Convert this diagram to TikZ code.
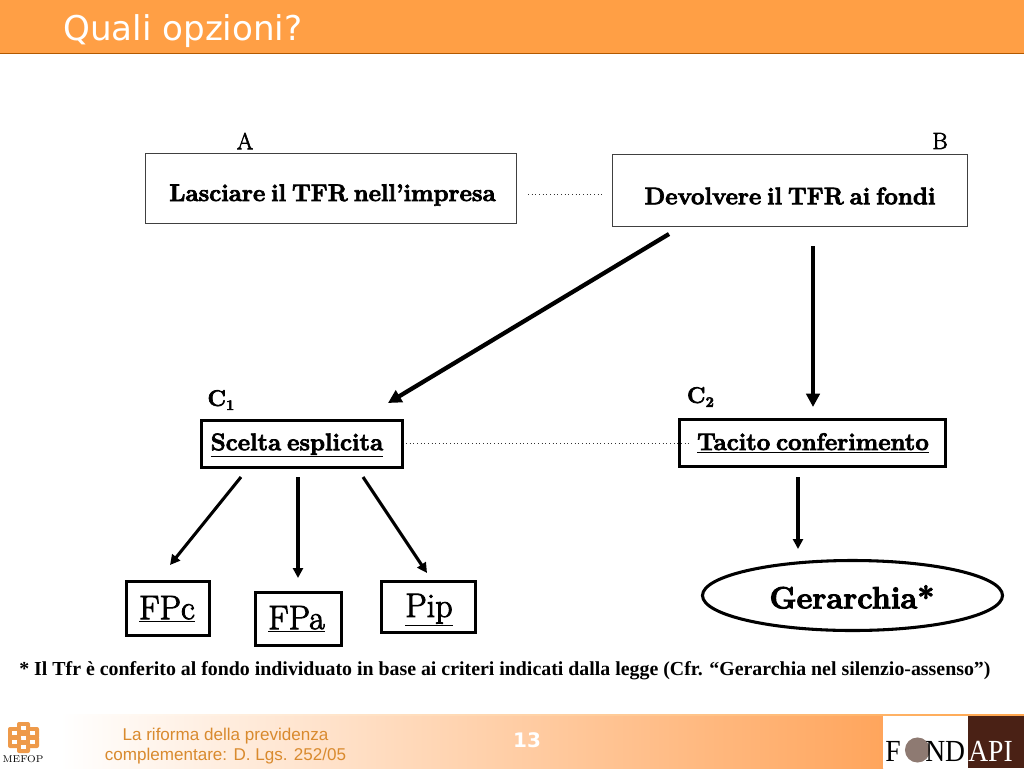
\documentclass[tikz,border=0pt]{standalone}
\usepackage{fontspec}
\usetikzlibrary{shapes.geometric,arrows.meta}
\newfontfamily\titlefont{DejaVu Sans}
\newfontfamily\footfont{Liberation Sans}
\newfontfamily\notefont{Liberation Serif}
\newfontfamily\heavyfont[BoldFeatures={FakeBold=3,WordSpace=0.65}]{Latin Modern Roman}
\newfontfamily\midfont[FakeBold=2.5]{Latin Modern Roman}
\definecolor{barorange}{HTML}{FF9F45}
\definecolor{footorange}{HTML}{FFA55C}
\definecolor{logoorange}{HTML}{EE9A4A}
\definecolor{foottext}{HTML}{D98A2E}
\definecolor{fondbrown}{HTML}{4A2115}
\definecolor{coin}{HTML}{8E7A72}
\tikzset{
  x=0.75pt,y=-0.75pt,
  thinbox/.style={draw=black!75,line width=0.75pt,rectangle,inner sep=0pt,outer sep=0pt,anchor=north west},
  heavybox/.style={draw=black,line width=2.3pt,rectangle,inner sep=0pt,outer sep=0pt,anchor=north west},
  boxtext/.style={inner sep=0pt,font=\heavyfont\bfseries\fontsize{18}{22}\selectfont,text=black},
  letter/.style={inner sep=0pt,font=\midfont\fontsize{17.5}{20}\selectfont},
  bigarrow/.style={line width=3.2pt,-{Triangle[length=10pt,width=10pt]}},
  smallarrow/.style={line width=2.3pt,-{Triangle[length=7.5pt,width=7.5pt]}},
  dotline/.style={dotted,line width=0.75pt,black!80},
  fundtext/.style={inner sep=0pt,font=\midfont\fontsize{25.5}{28}\selectfont},
  clabel/.style={inner sep=0pt,font=\heavyfont\bfseries\fontsize{17}{20}\selectfont},
  logotext/.style={anchor=base west,inner sep=0pt,xscale=0.9,font=\notefont\fontsize{23}{24}\selectfont},
}
\begin{document}
\begin{tikzpicture}
\useasboundingbox (0,0) rectangle (1024,768);
\fill[white] (0,0) rectangle (1024,768);
% header
\fill[barorange] (0,0) rectangle (1024,53);
\draw[line width=0.75pt,color=orange!70!black] (0,53.5) -- (1024,53.5);
\node[anchor=west,inner sep=0pt,text=white,font=\titlefont\fontsize{25.6}{28}\selectfont] (title) at (63,31) {Quali opzioni?};
% footer
\shade[left color=white,right color=footorange] (60,714) rectangle (883,768);
\fill[white] (883,715) rectangle (968,768);
\fill[fondbrown] (968,715) rectangle (1024,768);
\shade[left color=white,right color=orange!70] (60,714) rectangle (1024,715);
\node[align=center,inner sep=0pt,text=foottext,font=\footfont\fontsize{12.8}{14.4}\selectfont] (foot) at (225.5,746) {La riforma della previdenza\\complementare: D. Lgs. 252/05};
\node[inner sep=0pt,text=white,font=\titlefont\bfseries\fontsize{15}{18}\selectfont] (page) at (527,740) {13};
% MEFOP logo
\foreach \cx/\cy in {23.5/728,14.5/733,32.5/733,23.5/737.5,14.5/742,32.5/742,23.5/747}{
  \fill[logoorange,rounded corners=1.5pt] (\cx-6.5,\cy-6) rectangle (\cx+6.5,\cy+6);
  \fill[white] (\cx-2.2,\cy-2) rectangle (\cx+2.2,\cy+2);
}
\node[inner sep=0pt,font=\fontsize{7.4}{8}\selectfont] (mefop) at (23,759) {MEFOP};
% FONDAPI logo
\fill[coin] (917.5,750) circle (9.4pt);
\node[logotext] (fondf) at (885,761) {F};
\node[logotext] (fondnd) at (925,761) {ND};
\node[logotext,text=white] (api) at (968,761) {API};
% upper boxes
\node[thinbox,minimum width=278.25pt,minimum height=52.5pt] (a) at (145.5,153.5) {};
\node[thinbox,minimum width=266.25pt,minimum height=54pt] (b) at (612.5,154.5) {};
\node[boxtext] (atext) at (332.5,195) {Lasciare il TFR nell’impresa};
\node[boxtext] (btext) at (790,196) {Devolvere il TFR ai fondi};
\node[letter] (la) at (245,141) {A};
\node[letter] (lb) at (940,141) {B};
% middle boxes
\node[heavybox,minimum width=150.75pt,minimum height=35.25pt] (c1) at (201.5,420.5) {};
\node[heavybox,minimum width=199.5pt,minimum height=35.25pt] (c2) at (679.5,419.5) {};
\node[boxtext] (c1text) at (297,445.5) {\underline{Scelta esplicita}};
\node[boxtext] (c2text) at (813,443) {\underline{Tacito conferimento}};
\node[clabel] (lc1) at (221,400) {C\raisebox{-3pt}{\fontsize{11}{11}\selectfont 1}};
\node[clabel] (lc2) at (700.5,397) {C\raisebox{-3pt}{\fontsize{11}{11}\selectfont 2}};
% lower boxes
\node[heavybox,minimum width=62.25pt,minimum height=40.5pt] (fpc) at (126.5,581.5) {};
\node[heavybox,minimum width=64.5pt,minimum height=39.75pt] (fpa) at (255.5,592.5) {};
\node[heavybox,minimum width=70.5pt,minimum height=38.25pt] (pip) at (381.5,581.5) {};
\node[fundtext] (fpctext) at (167,609) {\underline{FPc}};
\node[fundtext] (fpatext) at (296.5,619) {\underline{FPa}};
\node[fundtext] (piptext) at (429,610) {\underline{Pip}};
\node[draw=black,line width=2.3pt,ellipse,inner sep=0pt,outer sep=0pt,minimum width=225pt,minimum height=52.5pt] (g) at (852.5,595.5) {};
\node[inner sep=0pt,font=\heavyfont\bfseries\fontsize{23}{28}\selectfont] (gtext) at (852,597) {Gerarchia*};
% connector ends
\coordinate (s1) at (669,234); \coordinate (e1) at (388,403);
\coordinate (s2) at (813,246); \coordinate (e2) at (813,407);
\coordinate (s3) at (241,477); \coordinate (e3) at (170,565);
\coordinate (s4) at (298,477); \coordinate (e4) at (298,578);
\coordinate (s5) at (363,477); \coordinate (e5) at (427,573);
\coordinate (s6) at (798,477); \coordinate (e6) at (798,549);
\coordinate (d1) at (528,194); \coordinate (d2) at (603,194);
\coordinate (d3) at (406,443); \coordinate (d4) at (690,443);
\draw[bigarrow] (s1) -- (e1);
\draw[bigarrow] (s2) -- (e2);
\draw[smallarrow] (s3) -- (e3);
\draw[smallarrow] (s4) -- (e4);
\draw[smallarrow] (s5) -- (e5);
\draw[smallarrow] (s6) -- (e6);
\draw[dotline] (d1) -- (d2);
\draw[dotline] (d3) -- (d4);
% note
\node[anchor=west,inner sep=0pt,font=\notefont\bfseries\fontsize{14.9}{17}\selectfont] (note) at (19,671) {* Il Tfr è conferito al fondo individuato in base ai criteri indicati dalla legge (Cfr. “Gerarchia nel silenzio-assenso”)};
\end{tikzpicture}
\end{document}
